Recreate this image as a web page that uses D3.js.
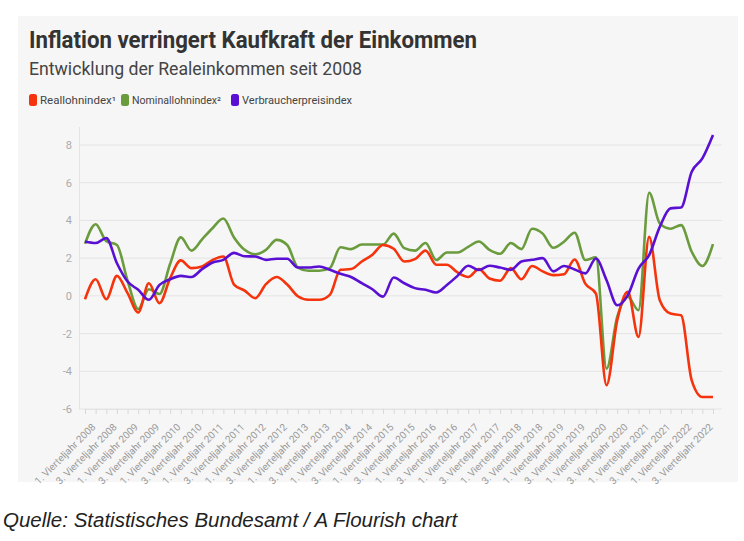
<!DOCTYPE html>
<html><head><meta charset="utf-8">
<script src="https://cdn.jsdelivr.net/npm/d3@7"></script>
<style>body{margin:0;background:#fff;} svg{display:block}</style>
</head><body>
<svg id="c" width="744" height="541"></svg>
<script>
const quarters = [
"1. Vierteljahr 2008","2. Vierteljahr 2008","3. Vierteljahr 2008","4. Vierteljahr 2008",
"1. Vierteljahr 2009","2. Vierteljahr 2009","3. Vierteljahr 2009","4. Vierteljahr 2009",
"1. Vierteljahr 2010","2. Vierteljahr 2010","3. Vierteljahr 2010","4. Vierteljahr 2010",
"1. Vierteljahr 2011","2. Vierteljahr 2011","3. Vierteljahr 2011","4. Vierteljahr 2011",
"1. Vierteljahr 2012","2. Vierteljahr 2012","3. Vierteljahr 2012","4. Vierteljahr 2012",
"1. Vierteljahr 2013","2. Vierteljahr 2013","3. Vierteljahr 2013","4. Vierteljahr 2013",
"1. Vierteljahr 2014","2. Vierteljahr 2014","3. Vierteljahr 2014","4. Vierteljahr 2014",
"1. Vierteljahr 2015","2. Vierteljahr 2015","3. Vierteljahr 2015","4. Vierteljahr 2015",
"1. Vierteljahr 2016","2. Vierteljahr 2016","3. Vierteljahr 2016","4. Vierteljahr 2016",
"1. Vierteljahr 2017","2. Vierteljahr 2017","3. Vierteljahr 2017","4. Vierteljahr 2017",
"1. Vierteljahr 2018","2. Vierteljahr 2018","3. Vierteljahr 2018","4. Vierteljahr 2018",
"1. Vierteljahr 2019","2. Vierteljahr 2019","3. Vierteljahr 2019","4. Vierteljahr 2019",
"1. Vierteljahr 2020","2. Vierteljahr 2020","3. Vierteljahr 2020","4. Vierteljahr 2020",
"1. Vierteljahr 2021","2. Vierteljahr 2021","3. Vierteljahr 2021","4. Vierteljahr 2021",
"1. Vierteljahr 2022","2. Vierteljahr 2022","3. Vierteljahr 2022","4. Vierteljahr 2022"
];
const reallohn = [-0.18,0.88,-0.18,1.06,0.14,-0.88,0.67,-0.39,0.94,1.88,1.47,1.56,1.91,2.09,0.6,0.28,-0.12,0.62,1.0,0.6,-0.02,-0.21,-0.21,0.05,1.38,1.42,1.82,2.18,2.7,2.5,1.82,1.95,2.4,1.65,1.65,1.24,1.0,1.42,0.92,0.8,1.47,0.88,1.58,1.3,1.1,1.15,1.93,0.65,0.12,-4.74,-1.3,0.21,-2.18,3.13,-0.23,-0.94,-1.03,-4.48,-5.36,-5.36];
const nominallohn = [2.76,3.8,2.9,2.7,0.8,-0.7,0.35,0.1,1.7,3.1,2.4,3.0,3.6,4.1,3.1,2.44,2.2,2.44,2.97,2.7,1.5,1.33,1.33,1.47,2.58,2.48,2.72,2.72,2.72,3.3,2.53,2.4,2.8,1.9,2.3,2.3,2.6,2.88,2.44,2.23,2.8,2.48,3.56,3.3,2.55,2.87,3.35,1.9,2.04,-3.86,-1.12,-0.05,-0.76,5.47,3.84,3.56,3.75,2.34,1.58,2.74];
const vpi = [2.88,2.8,3.06,1.73,0.76,0.32,-0.21,0.58,0.88,1.06,1.0,1.42,1.77,1.91,2.28,2.1,2.09,1.91,1.97,1.97,1.5,1.5,1.56,1.38,1.17,1.0,0.67,0.35,-0.04,0.97,0.67,0.41,0.32,0.18,0.58,1.06,1.6,1.38,1.6,1.5,1.38,1.82,1.91,2.0,1.3,1.58,1.4,1.19,1.98,0.83,-0.5,0.04,1.45,2.16,3.66,4.64,4.69,6.58,7.29,8.53];
const seriesNames = ["Reallohnindex\u00B9","Nominallohnindex\u00B2","Verbraucherpreisindex"];
const seriesColors = ["#f5330d","#6a9b3c","#5a10d2"];
const yTicks = [-6,-4,-2,0,2,4,6,8];

const svg = d3.select("#c");
svg.append("rect").attr("x",18).attr("y",16).attr("width",720).attr("height",466).attr("fill","#f6f6f6");

svg.append("text").attr("x",29).attr("y",48).attr("font-family","Roboto").attr("font-weight",700)
  .attr("font-size",23).attr("fill","#333").attr("textLength",448).attr("lengthAdjust","spacingAndGlyphs")
  .text("Inflation verringert Kaufkraft der Einkommen");
svg.append("text").attr("x",29).attr("y",75).attr("font-family","Roboto").attr("font-weight",400)
  .attr("font-size",18).attr("fill","#444").attr("textLength",333).attr("lengthAdjust","spacingAndGlyphs")
  .text("Entwicklung der Realeinkommen seit 2008");

// legend
const legX = [29,121,231];
const legW = [76,89,110];
const lg = svg.append("g");
seriesNames.forEach((n,i)=>{
  lg.append("rect").attr("x",legX[i]).attr("y",94).attr("width",8).attr("height",12).attr("rx",2.5).attr("fill",seriesColors[i]);
  lg.append("text").attr("x",legX[i]+11).attr("y",104).attr("font-family","Roboto").attr("font-size",10.5)
    .attr("fill","#444").attr("textLength",legW[i]).attr("lengthAdjust","spacingAndGlyphs").text(n);
});

const x = d3.scalePoint().domain(quarters).range([85,713]);
const y = d3.scaleLinear().domain([-6,8]).range([409,145]);

// gridlines
svg.append("g").selectAll("line").data(yTicks).join("line")
  .attr("x1",79).attr("x2",722).attr("y1",d=>y(d)).attr("y2",d=>y(d))
  .attr("stroke","#e4e4e4").attr("stroke-width",1);
svg.append("line").attr("x1",79.5).attr("x2",79.5).attr("y1",127).attr("y2",409).attr("stroke","#e4e4e4");

const ya = svg.append("g").attr("transform","translate(72,0)")
  .call(d3.axisLeft(y).tickValues(yTicks).tickSize(0).tickPadding(0).tickFormat(d=>d));
ya.select(".domain").remove();
ya.selectAll("text").attr("font-family","Roboto").attr("font-size",11).attr("fill","#aaa");

const xa = svg.append("g").attr("transform","translate(0,409)")
  .call(d3.axisBottom(x).tickSize(5).tickFormat((d,i)=> i%2===0 ? d : ""));
xa.select(".domain").attr("stroke","#e4e4e4");
xa.selectAll(".tick line").attr("stroke","#d8d8d8");
xa.selectAll("text").attr("font-family","Roboto").attr("font-size",10).attr("fill","#999")
  .attr("text-anchor","end").attr("dy",0).attr("dx",0)
  .attr("transform","translate(5,13) rotate(-45)");

const line = d3.line().x((d,i)=>x(quarters[i])).y(d=>y(d)).curve(d3.curveMonotoneX);
[nominallohn, reallohn, vpi].forEach((s,k)=>{
  const ci = [1,0,2][k];
  svg.append("path").datum(s).attr("d",line).attr("fill","none")
    .attr("stroke",seriesColors[ci]).attr("stroke-width",2.6).attr("stroke-linejoin","round");
});

svg.append("text").attr("x",3).attr("y",527).attr("font-family","Liberation Sans, Arial").attr("font-style","italic")
  .attr("font-size",20.5).attr("fill","#222").text("Quelle: Statistisches Bundesamt / A Flourish chart");
</script>
</body></html>
